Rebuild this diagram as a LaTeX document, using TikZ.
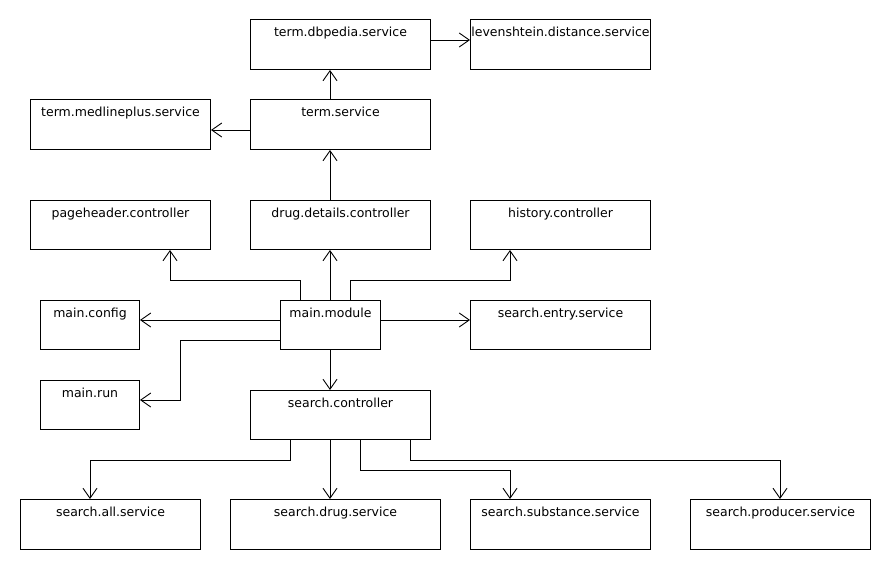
\documentclass[tikz,border=0pt]{standalone}
\usepackage{fontspec}
\setmainfont{DejaVu Sans}
\usetikzlibrary{arrows.meta}
\begin{document}
\begin{tikzpicture}[x=1pt,y=-1pt,
  box/.style={draw=black, line width=1pt, fill=white, inner sep=0pt, anchor=north west},
  lab/.style={anchor=base, yshift=-17.5pt, inner sep=0pt, font=\fontsize{12.5}{15}\selectfont},
  dep/.style={draw=black, line width=0.9pt, -{Straight Barb[length=10pt,width=14pt,line width=0.9pt]}}]
\useasboundingbox[fill=white] (0,0) rectangle (890,570);
% boxes: name, x, y, w, h, text
\newcommand\umlbox[6]{\node[box, minimum width=#4pt, minimum height=#5pt, label={[lab]north:#6}] (#1) at (#2,#3) {};}
\umlbox{dbp}{250}{19}{180}{50}{term.dbpedia.service}
\umlbox{lev}{470}{19}{180}{50}{levenshtein.distance.service}
\umlbox{med}{30}{99}{180}{50}{term.medlineplus.service}
\umlbox{term}{250}{99}{180}{50}{term.service}
\umlbox{page}{30}{200}{180}{49}{pageheader.controller}
\umlbox{drug}{250}{200}{180}{49}{drug.details.controller}
\umlbox{hist}{470}{200}{180}{49}{history.controller}
\umlbox{config}{40}{300}{99}{49}{main.config}
\umlbox{module}{280}{300}{100}{49}{main.module}
\umlbox{entry}{470}{300}{180}{49}{search.entry.service}
\umlbox{run}{40}{380}{99}{49}{main.run}
\umlbox{sctrl}{250}{390}{180}{49}{search.controller}
\umlbox{all}{20}{499}{180}{50}{search.all.service}
\umlbox{sdrug}{230}{499}{210}{50}{search.drug.service}
\umlbox{subst}{470}{499}{180}{50}{search.substance.service}
\umlbox{prod}{690}{499}{180}{50}{search.producer.service}
% connectors
\draw[dep] (dbp.east |- 0,40) -- (lev.west |- 0,40);
\draw[dep] (term.north -| 330,0) -- (dbp.south -| 330,0);
\draw[dep] (term.west |- 0,130) -- (med.east |- 0,130);
\draw[dep] (drug.north -| 330,0) -- (term.south -| 330,0);
\draw[dep] (module.north -| 300,0) |- (170,280) -- (page.south -| 170,0);
\draw[dep] (module.north -| 330,0) -- (drug.south -| 330,0);
\draw[dep] (module.north -| 350,0) |- (510,280) -- (hist.south -| 510,0);
\draw[dep] (module.west |- 0,320) -- (config.east |- 0,320);
\draw[dep] (module.west |- 0,340) -| (180,400) -- (run.east |- 0,400);
\draw[dep] (module.east |- 0,320) -- (entry.west |- 0,320);
\draw[dep] (module.south -| 330,0) -- (sctrl.north -| 330,0);
\draw[dep] (sctrl.south -| 290,0) |- (90,460) -- (all.north -| 90,0);
\draw[dep] (sctrl.south -| 330,0) -- (sdrug.north -| 330,0);
\draw[dep] (sctrl.south -| 360,0) |- (510,470) -- (subst.north -| 510,0);
\draw[dep] (sctrl.south -| 410,0) |- (780,460) -- (prod.north -| 780,0);
\end{tikzpicture}
\end{document}
